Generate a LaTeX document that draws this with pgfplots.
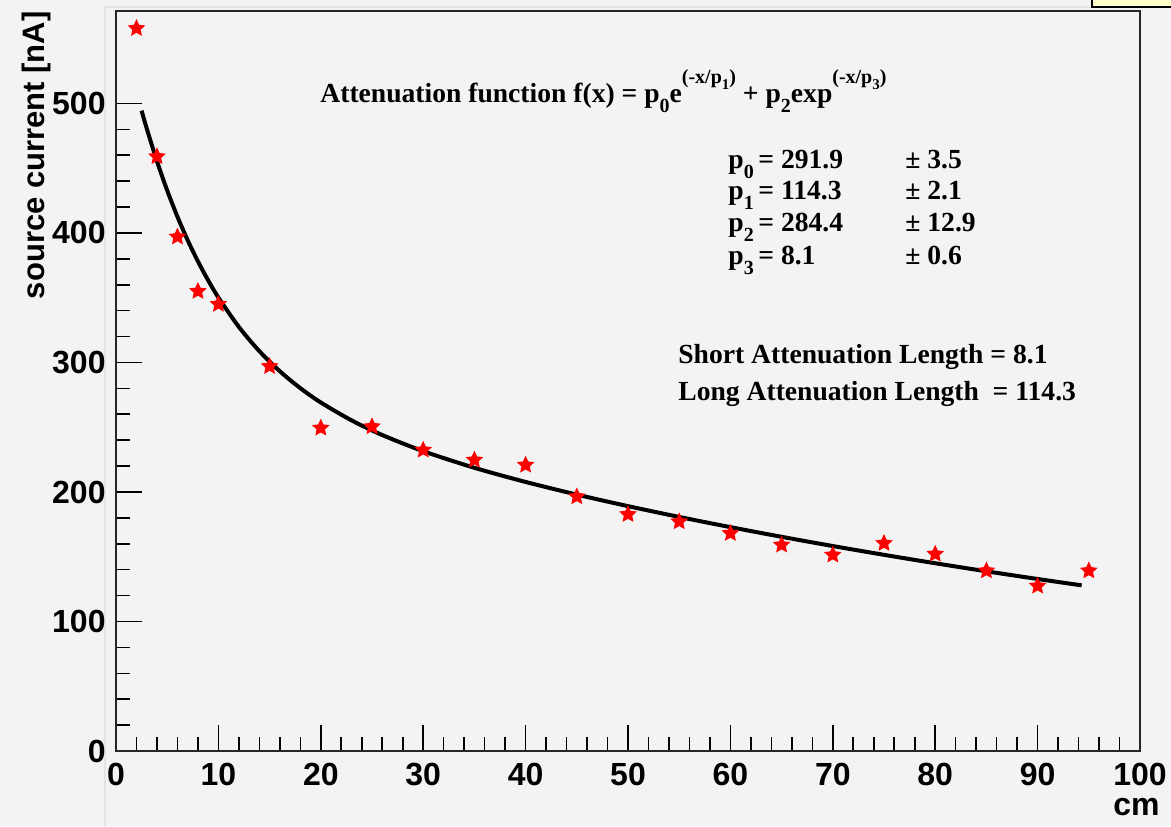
\documentclass[border=0pt]{standalone}
\usepackage{fontspec}
\setmainfont{Liberation Sans}
\newfontfamily\serifbf{Liberation Serif}[BoldFont={Liberation Serif Bold}]
\usepackage{pgfplots}
\pgfplotsset{compat=1.18}

\definecolor{padbg}{RGB}{243,243,243}
\definecolor{statsbg}{RGB}{255,255,204}

% filled five-pointed star marker
\pgfdeclareplotmark{fstar}{%
  \pgfpathmoveto{\pgfpointpolar{90}{1.15\pgfplotmarksize}}%
  \pgfpathlineto{\pgfpointpolar{126}{0.55\pgfplotmarksize}}%
  \pgfpathlineto{\pgfpointpolar{162}{1.15\pgfplotmarksize}}%
  \pgfpathlineto{\pgfpointpolar{198}{0.55\pgfplotmarksize}}%
  \pgfpathlineto{\pgfpointpolar{234}{1.15\pgfplotmarksize}}%
  \pgfpathlineto{\pgfpointpolar{270}{0.55\pgfplotmarksize}}%
  \pgfpathlineto{\pgfpointpolar{306}{1.15\pgfplotmarksize}}%
  \pgfpathlineto{\pgfpointpolar{342}{0.55\pgfplotmarksize}}%
  \pgfpathlineto{\pgfpointpolar{18}{1.15\pgfplotmarksize}}%
  \pgfpathlineto{\pgfpointpolar{54}{0.55\pgfplotmarksize}}%
  \pgfpathclose\pgfusepathqfillstroke}

% low subscripts and high superscripts
\newcommand\rsub[1]{\raisebox{-5pt}{\fontsize{10}{10}\selectfont #1}}
\newcommand\rsup[1]{\raisebox{9.5pt}{\fontsize{10}{10}\selectfont #1}}
\newcommand\rsubsmall[1]{\raisebox{-3pt}{\fontsize{7.5}{7.5}\selectfont #1}}

% measured source current versus position
\pgfplotstableread{
x    y
2    558.0
4    459.0
6    397.0
8    355.0
10   345.0
15   297.0
20   249.4
25   250.5
30   232.4
35   224.7
40   220.8
45   196.4
50   182.7
55   177.1
60   168.1
65   159.1
70   151.4
75   160.4
80   152.1
85   139.2
90   127.4
95   139.2
}\measured

% double-exponential fit, tabulated
\pgfplotstableread{
x     y
2.5   494.46
3     480.71
4     455.42
5     432.82
6     412.56
7     394.40
8     378.09
9     363.42
10    350.20
12    327.45
14    308.75
16    293.22
18    280.19
20    269.12
23    255.33
26    243.99
30    231.52
35    218.69
40    207.75
45    198.00
50    189.07
55    180.73
60    172.86
65    165.39
70    158.27
75    151.48
80    144.98
85    138.76
90    132.82
94.3  127.92
}\fitcurve

\begin{document}
\begin{tikzpicture}
  % canvas
  \fill[padbg] (0,0) rectangle (585.5pt,413pt);
  \useasboundingbox (0,0) rectangle (585.5pt,413pt);
  \draw[black!10, line width=0.8pt] (52.5pt,0) -- (52.5pt,409.5pt) -- (546pt,409.5pt);
  % stats box corner
  \filldraw[fill=statsbg, draw=black, line width=1pt] (546pt,409.7pt) rectangle (590pt,420pt);

  \begin{axis}[
    at={(58pt,37.5pt)}, anchor=south west,
    scale only axis, width=512pt, height=370pt,
    xmin=0, xmax=100, ymin=0, ymax=571.4,
    xtick={0,10,...,100}, ytick={0,100,...,500},
    minor x tick num=4, minor y tick num=4,
    tick align=inside, tick pos=left,
    major tick length=13pt, minor tick length=7pt,
    tick style={black, line width=0.8pt},
    axis line style={black!85, line width=1pt},
    axis background/.style={fill=padbg},
    ticklabel style={font=\bfseries\fontsize{16}{16}\selectfont},
    /pgf/number format/assume math mode=true,
    yticklabel style={inner sep=0pt, xshift=-5pt},
    xticklabel style={inner sep=0pt, yshift=-6pt},
    xlabel={cm},
    xlabel style={at={(axis description cs:1.0195,-0.0865)}, anchor=base east,
      inner sep=0pt, font=\bfseries\fontsize{16}{16}\selectfont},
    ylabel={source current [nA]},
    ylabel style={at={(axis description cs:-0.0703,1)}, anchor=base east,
      inner sep=0pt, font=\bfseries\fontsize{15.5}{15.5}\selectfont},
    clip=false,
  ]
    \addplot[black, line width=2pt, smooth, no markers] table[x=x,y=y] {\fitcurve};
    \addplot[only marks, mark=fstar, mark size=3.4pt,
      mark options={fill=red, draw=red, line width=0.6pt}] table[x=x,y=y] {\measured};

    \begin{scope}[every node/.style={anchor=base west, inner sep=0pt,
        font=\serifbf\bfseries\fontsize{13.8}{13.8}\selectfont}]
      \node at (axis description cs:0.1992,0.8757)
        {Attenuation function f(x) = p\rsub{0}e\rsup{(-x/p\rsubsmall{1})} + p\rsub{2}exp\rsup{(-x/p\rsubsmall{3})}};
      \node at (axis description cs:0.5977,0.7878) {p\rsub{0}\,= 291.9};
      \node at (axis description cs:0.5977,0.7446) {p\rsub{1}\,= 114.3};
      \node at (axis description cs:0.5977,0.7014) {p\rsub{2}\,= 284.4};
      \node at (axis description cs:0.5977,0.6581) {p\rsub{3}\,= 8.1};
      \node at (axis description cs:0.7705,0.7878) {\char"00B1\ 3.5};
      \node at (axis description cs:0.7705,0.7446) {\char"00B1\ 2.1};
      \node at (axis description cs:0.7705,0.7014) {\char"00B1\ 12.9};
      \node at (axis description cs:0.7705,0.6581) {\char"00B1\ 0.6};
      \node at (axis description cs:0.5488,0.5243) {Short Attenuation Length = 8.1};
      \node at (axis description cs:0.5488,0.4743) {Long Attenuation Length\ \ = 114.3};
    \end{scope}
  \end{axis}
\end{tikzpicture}
\end{document}
